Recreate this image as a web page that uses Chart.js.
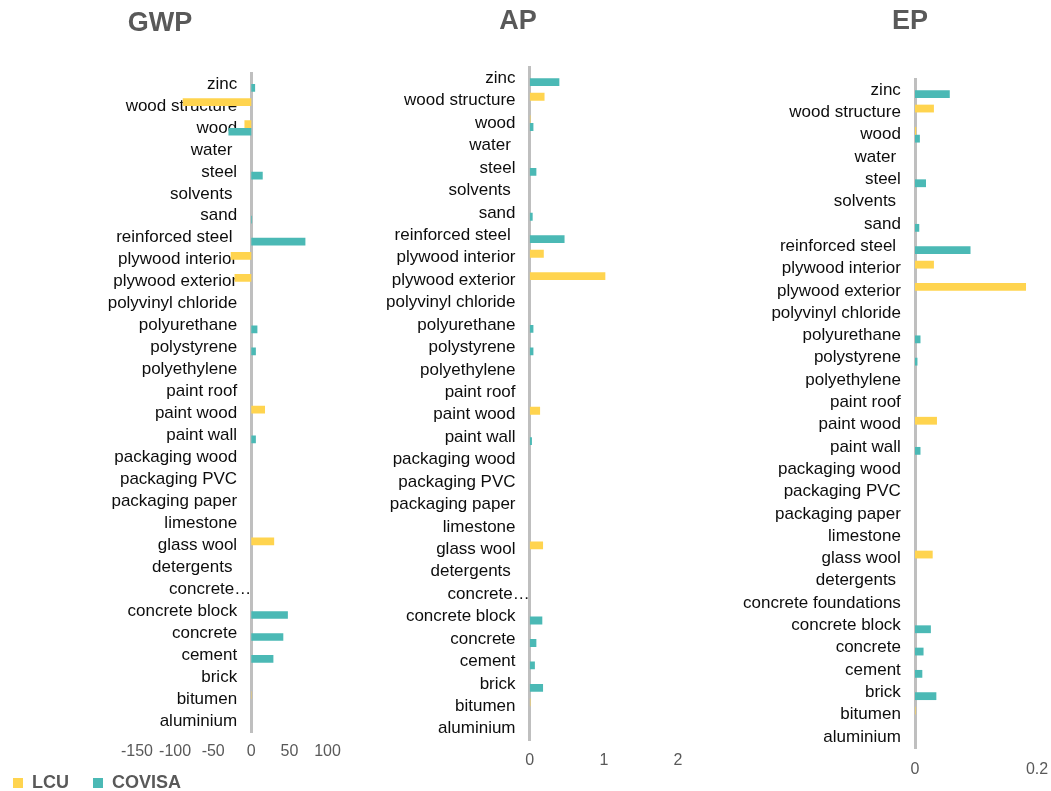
<!DOCTYPE html>
<html>
<head>
<meta charset="utf-8">
<title>GWP / AP / EP by material</title>
<script src="https://cdn.jsdelivr.net/npm/chart.js@4.4.1/dist/chart.umd.min.js"></script>
<style>
  html, body { margin: 0; padding: 0; background: #ffffff; }
  body { width: 1051px; height: 791px; position: relative; overflow: hidden; }
  canvas { position: absolute; top: 0; }
</style>
</head>
<body>
<canvas id="gwp"></canvas>
<canvas id="ap"></canvas>
<canvas id="ep"></canvas>
<canvas id="legend"></canvas>
<script>
// Materials, listed top to bottom
const categories = [
  'zinc', 'wood structure', 'wood', 'water ', 'steel', 'solvents ', 'sand',
  'reinforced steel ', 'plywood interior', 'plywood exterior', 'polyvinyl chloride',
  'polyurethane', 'polystyrene', 'polyethylene', 'paint roof', 'paint wood', 'paint wall',
  'packaging wood', 'packaging PVC', 'packaging paper', 'limestone', 'glass wool',
  'detergents ', 'concrete foundations', 'concrete block', 'concrete', 'cement', 'brick',
  'bitumen', 'aluminium'
];

const seriesNames = ['LCU', 'COVISA'];
const seriesColors = ['#FFD44F', '#4BB9B5'];

// Global warming potential
const gwpLCU =    [0, -90, -9, 0, 0, 0, 0, 0, -27, -22, 0, 0, 0, 0, 0, 18, 0, 0, 0, 0, 0, 30, 0, 0, 0, 0, 0, 0, 0.5, 0];
const gwpCOVISA = [5, 0, -30, 0, 15, 0, 1, 71, 0, 0, 0, 8, 6, 0, 0, 0, 6, 0, 0, 0, 0, 0, 0, 0, 48, 42, 29, 0, 0, 0];

// Acidification potential
const apLCU =    [0, 0.20, 0.01, 0, 0, 0, 0, 0, 0.19, 1.02, 0, 0, 0, 0, 0, 0.14, 0, 0, 0, 0, 0, 0.18, 0, 0, 0, 0, 0, 0, 0.01, 0];
const apCOVISA = [0.40, 0, 0.05, 0, 0.09, 0, 0.04, 0.47, 0, 0, 0, 0.05, 0.05, 0, 0, 0, 0.03, 0, 0, 0, 0, 0, 0, 0, 0.17, 0.09, 0.07, 0.18, 0, 0];

// Eutrophication potential
const epLCU =    [0, 0.031, 0.002, 0, 0, 0, 0, 0, 0.031, 0.182, 0, 0, 0, 0, 0, 0.036, 0, 0, 0, 0, 0, 0.029, 0, 0, 0, 0, 0, 0, 0.001, 0];
const epCOVISA = [0.057, 0, 0.008, 0, 0.018, 0, 0.007, 0.091, 0, 0, 0, 0.009, 0.004, 0, 0, 0, 0.009, 0, 0, 0, 0, 0, 0, 0, 0.026, 0.014, 0.012, 0.035, 0, 0];

// Value-axis tick labels
const gwpTicks = [-150, -100, -50, 0, 50, 100];
const apTicks = [0, 1, 2];
const epTicks = [0, 0.2];

const FONT = "'Liberation Sans', Arial, Helvetica, sans-serif";
const GREY = '#595959';
const CANVAS_H = 791;
const TITLE_SIZE = 27, TICK_SIZE = 16, LABEL_SIZE = 17;

function categoryLabel(shorten) {
  return (value, index) => {
    const name = categories[index];
    if (shorten && name.length > 19) return name.split(' ')[0] + '\u2026';
    return name + '   ';
  };
}

// Invisible side axes that reserve room around the plot area
function spacer(position, size) {
  return {
    type: 'linear',
    position: position,
    display: true,
    grid: { display: false, drawTicks: false },
    border: { display: false },
    ticks: { display: false },
    afterFit: s => { s.width = size; }
  };
}

function panel(id, p) {
  const canvas = document.getElementById(id);
  canvas.width = p.width;
  canvas.height = CANVAS_H;
  canvas.style.left = p.left + 'px';

  const titleLine = TITLE_SIZE * 1.2;
  const tickLine = TICK_SIZE * 1.2;
  const padTop = p.titleMid - titleLine / 2;
  const titleGap = p.plotTop - padTop - titleLine;
  const tickGap = p.tickMid - p.plotBottom - tickLine / 2;
  // the value axis reserves its tick padding on both sides of the labels
  const padBottom = CANVAS_H - p.plotBottom - 2 * tickGap - tickLine - 1;

  return new Chart(canvas, {
    type: 'bar',
    data: {
      labels: categories,
      datasets: [
        { label: seriesNames[0], data: p.lcu, backgroundColor: seriesColors[0], borderWidth: 0,
          categoryPercentage: 0.7, barPercentage: 1.0 },
        { label: seriesNames[1], data: p.covisa, backgroundColor: seriesColors[1], borderWidth: 0,
          categoryPercentage: 0.7, barPercentage: 1.0 }
      ]
    },
    options: {
      indexAxis: 'y',
      responsive: false,
      animation: false,
      layout: { padding: { top: padTop, bottom: padBottom, left: 0, right: 0 } },
      scales: {
        x: {
          type: 'linear',
          min: p.ticks[0],
          max: p.ticks[p.ticks.length - 1],
          afterBuildTicks: s => { s.ticks = p.ticks.map(v => ({ value: v })); },
          grid: { display: false, drawTicks: false },
          border: { display: false },
          ticks: {
            color: GREY,
            padding: tickGap,
            autoSkip: false,
            maxRotation: 0,
            font: { family: FONT, size: TICK_SIZE },
            callback: v => String(v)
          }
        },
        y: {
          type: 'category',
          position: { x: 0 },
          z: 1,
          grid: { display: false, drawTicks: false },
          border: { display: true, color: '#BFBFBF', width: 3 },
          ticks: {
            color: '#0d0d0d',
            autoSkip: false,
            font: { family: FONT, size: LABEL_SIZE },
            callback: categoryLabel(p.shorten)
          }
        },
        padL: spacer('left', p.plotLeft - p.left),
        padR: spacer('right', p.left + p.width - p.plotRight)
      },
      plugins: {
        legend: { display: false },
        tooltip: { enabled: false },
        title: {
          display: true,
          text: p.title,
          color: GREY,
          font: { family: FONT, size: TITLE_SIZE, weight: 'bold' },
          padding: { top: 0, bottom: titleGap }
        }
      }
    }
  });
}

panel('gwp', {
  title: 'GWP', lcu: gwpLCU, covisa: gwpCOVISA, ticks: gwpTicks, shorten: true,
  left: -35, width: 390, plotLeft: 137, plotRight: 327.5,
  titleMid: 23.5, plotTop: 73, plotBottom: 731, tickMid: 750.5
});

panel('ap', {
  title: 'AP', lcu: apLCU, covisa: apCOVISA, ticks: apTicks, shorten: true,
  left: 330, width: 376, plotLeft: 529.7, plotRight: 678,
  titleMid: 22, plotTop: 67, plotBottom: 739, tickMid: 759.5
});

panel('ep', {
  title: 'EP', lcu: epLCU, covisa: epCOVISA, ticks: epTicks, shorten: false,
  left: 730, width: 360, plotLeft: 915, plotRight: 1037,
  titleMid: 22, plotTop: 79, plotBottom: 747, tickMid: 768.5
});

// Shared legend, bottom left
(function () {
  const canvas = document.getElementById('legend');
  canvas.width = 320;
  canvas.height = 80;
  canvas.style.left = '-11px';
  canvas.style.top = '750px';
  new Chart(canvas, {
    type: 'bar',
    data: {
      labels: [],
      datasets: seriesNames.map((name, i) => ({
        label: name, data: [], backgroundColor: seriesColors[i], borderColor: seriesColors[i], borderWidth: 0
      }))
    },
    options: {
      responsive: false,
      animation: false,
      layout: { padding: 0 },
      scales: { x: { display: false }, y: { display: false } },
      plugins: {
        tooltip: { enabled: false },
        legend: {
          position: 'top',
          align: 'start',
          labels: {
            boxWidth: 10,
            boxHeight: 10,
            padding: 24,
            color: GREY,
            font: { family: FONT, size: 18, weight: 'bold' }
          }
        }
      }
    }
  });
})();
</script>
</body>
</html>
